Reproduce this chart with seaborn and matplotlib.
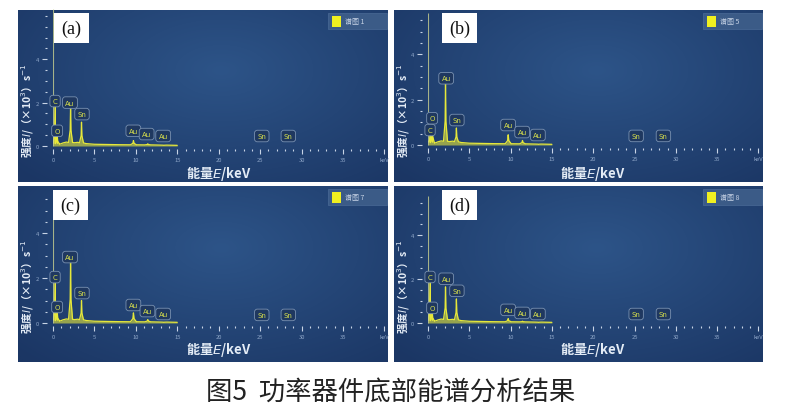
import numpy as np
import pandas as pd
import matplotlib
matplotlib.use("Agg")
import matplotlib.pyplot as plt
from matplotlib.patches import Rectangle
import seaborn as sns

# %%
# spectrum data (energy keV, counts x10^3 s^-1)
peak_energy = [0.28, 0.52, 2.12, 3.44, 9.71, 11.44, 13.38]
peaks_a = [2.0, 0.45, 1.8, 1.1, 0.25, 0.10, 0.03]
peaks_b = [0.5, 0.9, 2.7, 0.75, 0.45, 0.20, 0.03]
peaks_c = [2.0, 0.45, 2.7, 1.0, 0.45, 0.15, 0.03]
peaks_d = [2.0, 0.5, 1.65, 1.1, 0.20, 0.08, 0.03]

base_energy = [0.0, 0.8, 1.2, 1.6, 2.6, 3.0, 4.0, 5.0, 8.0, 12.0, 15.0]
base_counts = [0.15, 0.08, 0.14, 0.18, 0.15, 0.17, 0.11, 0.08, 0.06, 0.05, 0.03]

# element markers: symbol, energy position, height position
label_elem = ["C", "O", "Au", "Sn", "Au", "Au", "Au", "Sn", "Sn"]
label_x_a = [0.25, 0.5, 2.05, 3.5, 9.7, 11.3, 13.3, 25.2, 28.4]
label_y_a = [2.07, 0.7, 2.0, 1.47, 0.7, 0.55, 0.46, 0.46, 0.46]
label_x_b = [0.25, 0.5, 2.2, 3.5, 9.7, 11.4, 13.3, 25.2, 28.5]
label_y_b = [0.66, 1.18, 2.94, 1.1, 0.88, 0.57, 0.44, 0.4, 0.4]
label_x_c = [0.25, 0.5, 2.05, 3.5, 9.7, 11.4, 13.3, 25.2, 28.4]
label_y_c = [2.04, 0.71, 2.93, 1.33, 0.8, 0.53, 0.4, 0.36, 0.36]
label_x_d = [0.25, 0.5, 2.2, 3.5, 9.7, 11.4, 13.3, 25.2, 28.5]
label_y_d = [2.1, 0.69, 2.02, 1.47, 0.6, 0.46, 0.41, 0.41, 0.41]

tags = ["(a)", "(b)", "(c)", "(d)"]
legends = ["谱图 1", "谱图 5", "谱图 7", "谱图 8"]
xtick_labels = ["0", "5", "10", "15", "20", "25", "30", "35", "keV"]

# %%
sns.set_theme(style="white")
plt.rcParams["font.family"] = ["Noto Sans CJK SC", "DejaVu Sans"]
plt.rcParams["mathtext.fontset"] = "dejavusans"

W, H = 800, 414
fig = plt.figure(figsize=(W / 100, H / 100), dpi=100)
fig.patch.set_facecolor("white")

under = fig.add_axes([0, 0, 1, 1], zorder=-1)
under.set_xlim(0, W)
under.set_ylim(H, 0)
under.axis("off")

over = fig.add_axes([0, 0, 1, 1], zorder=10)
over.set_xlim(0, W)
over.set_ylim(H, 0)
over.axis("off")
over.patch.set_alpha(0)

# layout of each panel in pixels: panel box, x=0 px, x=40 px, y=0 px, px per unit, top tick
layout = [
    dict(box=(18, 11, 388, 183), x0=53, x40=384.4, y0=147, s=21.7, ytop=6.0, tag=(54, 14)),
    dict(box=(394, 11, 763, 183), x0=428, x40=758.4, y0=146, s=22.7, ytop=5.5, tag=(442, 14)),
    dict(box=(18, 187, 388, 363), x0=53, x40=384.4, y0=324, s=22.5, ytop=5.5, tag=(53, 191)),
    dict(box=(394, 187, 763, 363), x0=428, x40=758.4, y0=324, s=21.9, ytop=5.5, tag=(442, 191)),
]
peak_sets = [peaks_a, peaks_b, peaks_c, peaks_d]
label_sets = [(label_x_a, label_y_a), (label_x_b, label_y_b),
              (label_x_c, label_y_c), (label_x_d, label_y_d)]

# background gradient for the panels
gy, gx = np.mgrid[0:1:80j, 0:1:160j]
rad = np.clip(np.sqrt(((gx - 0.55) / 0.75) ** 2 + ((gy - 0.35) / 0.9) ** 2), 0, 1)
c_mid = np.array([45, 84, 136]) / 255
c_edge = np.array([27, 54, 100]) / 255
grad = c_mid[None, None, :] * (1 - rad[..., None]) + c_edge[None, None, :] * rad[..., None]

yellow = "#e6e83a"

for i, lay in enumerate(layout):
    l, t, r, b = lay["box"]
    under.imshow(grad, extent=(l, r, b, t), origin="upper", aspect="auto", interpolation="bilinear")

    ymax = lay["ytop"] + 0.3
    top_px = lay["y0"] - ymax * lay["s"]
    bot_px = lay["y0"] + 0.15 * lay["s"]
    ax = fig.add_axes([lay["x0"] / W, 1 - bot_px / H, (lay["x40"] - lay["x0"]) / W, (bot_px - top_px) / H])
    ax.patch.set_alpha(0)
    ax.set_xlim(0, 40)
    ax.set_ylim(-0.15, ymax)

    # build spectrum from baseline + peaks
    pts = list(zip(base_energy, base_counts))
    for e, h in zip(peak_energy, peak_sets[i]):
        w = 0.12 if e < 5 else 0.18
        bl = np.interp(e, base_energy, base_counts)
        pts += [(e - 2 * w, bl), (e - 0.4 * w, bl + 0.35 * (h - bl)), (e, h),
                (e + 0.4 * w, bl + 0.35 * (h - bl)), (e + 2 * w, bl)]
    spec = pd.DataFrame(pts, columns=["energy", "counts"]).sort_values("energy")
    ax.fill_between(spec["energy"], 0, spec["counts"], color=yellow, alpha=0.6, lw=0)
    sns.lineplot(data=spec, x="energy", y="counts", ax=ax, color=yellow, lw=0.9,
                 estimator=None, sort=False)
    ax.vlines(0, 0, ymax, color="#c8d090", lw=0.8, alpha=0.8)

    # element markers
    lx, ly = label_sets[i]
    for el, x, y in zip(label_elem, lx, ly):
        ax.text(x, y, el, fontsize=5, color="#d8e04c", ha="center", va="center",
                family="DejaVu Sans",
                bbox=dict(boxstyle="round,pad=0.4", fc="#1f3860", ec="#7890b0", lw=0.6))

    # ticks
    ax.set_xticks(range(0, 41, 5))
    ax.set_xticklabels(xtick_labels)
    ax.set_xticks(range(0, 41, 1), minor=True)
    ax.set_yticks([0, 2, 4])
    ax.set_yticks(np.arange(0, lay["ytop"] + 0.01, 0.5), minor=True)
    for sp in ax.spines.values():
        sp.set_visible(False)
    ax.spines["left"].set_position(("outward", 4.5))
    ax.tick_params(axis="both", which="major", direction="out", length=3.5, width=0.8,
                   color="#c8d4e6", labelsize=4.2, labelcolor="#8ea6c8", pad=2,
                   bottom=True, left=True)
    ax.tick_params(axis="both", which="minor", direction="out", length=1.5, width=0.8,
                   color="#c8d4e6", bottom=True, left=True)
    ax.set_xlabel("")
    ax.set_ylabel("")

    # axis titles
    over.text(l + 9, t + 100, r"强度$I$/（×10$^3$）s$^{-1}$", rotation=90, ha="center",
              va="center", fontsize=7.6, color="#e4ecf6", fontweight="bold")
    over.text((lay["x0"] + lay["x40"]) / 2, t + 163, r"能量$E$/keV", ha="center",
              va="center", fontsize=9.5, color="#e4ecf6", fontweight="bold")

    # panel tag
    tx, ty = lay["tag"]
    over.add_patch(Rectangle((tx, ty), 35, 30, fc="white", ec="none"))
    over.text(tx + 17.5, ty + 15, tags[i], ha="center", va="center", fontsize=13,
              family="Liberation Serif", color="#111111")

    # legend box
    over.add_patch(Rectangle((r - 60, t + 3), 59, 16, fc="#3b5b87", ec="#4a6a96", lw=0.5))
    over.add_patch(Rectangle((r - 56, t + 5.5), 9, 11, fc="#f0f020", ec="none"))
    over.text(r - 43, t + 11, legends[i], ha="left", va="center", fontsize=5, color="#c8d4e6")

fig.text(391 / W, 1 - 392 / H, "图5  功率器件底部能谱分析结果", ha="center", va="center",
         fontsize=19, color="#222222")

fig.savefig("out.png", dpi=100, facecolor="white")
